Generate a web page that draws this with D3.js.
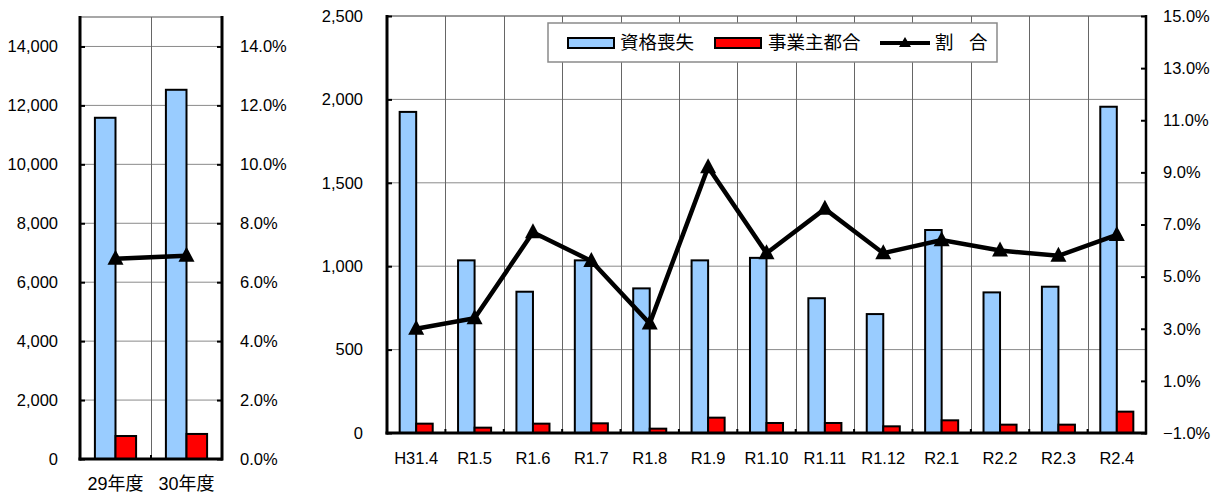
<!DOCTYPE html>
<html><head><meta charset="utf-8">
<script src="https://cdn.jsdelivr.net/npm/d3@7"></script>
<style>
body{margin:0;background:#fff}
text{font-family:"Liberation Sans","Noto Sans CJK JP",sans-serif;fill:#000}
</style>
</head><body>
<svg id="c" width="1225" height="498"></svg>
<script>
// ---- data ----
const yearCats = ["29年度", "30年度"];
const yearLoss = [11580, 12530];
const yearEmployer = [780, 850];
const yearRatio = [6.8, 6.9];

const monthCats = ["H31.4","R1.5","R1.6","R1.7","R1.8","R1.9","R1.10","R1.11","R1.12","R2.1","R2.2","R2.3","R2.4"];
const monthLoss = [1925, 1035, 847, 1035, 867, 1035, 1050, 808, 713, 1217, 843, 877, 1956];
const monthEmployer = [56, 32, 56, 58, 26, 92, 60, 60, 40, 76, 50, 50, 128];
const monthRatio = [3.0, 3.4, 6.7, 5.6, 3.2, 9.2, 5.9, 7.6, 5.9, 6.4, 6.0, 5.8, 6.6];

const yearCountTicks = [0, 2000, 4000, 6000, 8000, 10000, 12000, 14000];
const yearRatioTicks = [0, 2, 4, 6, 8, 10, 12, 14];
const monthCountTicks = [0, 500, 1000, 1500, 2000, 2500];
const monthRatioTicks = [-1, 1, 3, 5, 7, 9, 11, 13, 15];

const legendLabels = ["資格喪失", "事業主都合", "割　合"];

// ---- styles ----
const BLUE = "#99CCFF", RED = "#FF0000";
const svg = d3.select("#c");
const tri = "M0,-9L8,6L-8,6Z";

function panel(o) {
  const g = svg.append("g");
  const x = d3.scaleBand().domain(o.cats).range([o.x0, o.x1]).padding(0);
  const yC = d3.scaleLinear().domain([0, o.countMax]).range([o.y1, o.y0]);
  const yR = d3.scaleLinear().domain([o.rMin, o.rMax]).range([o.y1, o.y0]);
  const bw = x.bandwidth() * o.barFrac;
  const cx = c => x(c) + x.bandwidth() / 2;

  // horizontal grid
  g.append("g").selectAll("line").data(o.countTicks.filter(d => d > 0)).join("line")
    .attr("x1", o.x0).attr("x2", o.x1).attr("y1", d => yC(d)).attr("y2", d => yC(d))
    .attr("stroke", "#8a8a8a").attr("stroke-width", 1);
  // top border
  g.append("line").attr("x1", o.x0).attr("x2", o.x1).attr("y1", o.y0).attr("y2", o.y0)
    .attr("stroke", "#8a8a8a").attr("stroke-width", 1.5);
  // vertical grid at category boundaries
  g.append("g").selectAll("line").data(o.cats.slice(1)).join("line")
    .attr("x1", d => Math.round(x(d)) + 0.5).attr("x2", d => Math.round(x(d)) + 0.5)
    .attr("y1", o.y0).attr("y2", o.y1)
    .attr("stroke", "#666").attr("stroke-width", 1);

  // bars
  g.append("g").selectAll("rect").data(o.cats).join("rect")
    .attr("x", d => cx(d) - bw).attr("width", bw)
    .attr("y", (d, i) => yC(o.loss[i])).attr("height", (d, i) => o.y1 - yC(o.loss[i]))
    .attr("fill", BLUE).attr("stroke", "#000").attr("stroke-width", 2);
  g.append("g").selectAll("rect").data(o.cats).join("rect")
    .attr("x", d => cx(d)).attr("width", bw)
    .attr("y", (d, i) => yC(o.employer[i])).attr("height", (d, i) => o.y1 - yC(o.employer[i]))
    .attr("fill", RED).attr("stroke", "#000").attr("stroke-width", 2);

  // axes
  const la = d3.axisLeft(yC).tickValues(o.countTicks).tickSize(-5).tickPadding(o.lPad).tickFormat(d3.format(","));
  const lg = g.append("g").attr("transform", `translate(${o.x0},0)`).call(la);
  const ra = d3.axisRight(yR).tickValues(o.rTicks).tickSize(-5).tickPadding(o.rPad).tickFormat(d => d3.format(".1f")(d) + "%");
  const rg = g.append("g").attr("transform", `translate(${o.x1},0)`).call(ra);
  const ba = d3.axisBottom(x).tickSize(0).tickPadding(o.bPad);
  const bg = g.append("g").attr("transform", `translate(0,${o.y1})`).call(ba);
  [lg, rg, bg].forEach(a => {
    a.select(".domain").remove();
    a.selectAll(".tick line").attr("stroke", "#000").attr("stroke-width", 2);
    a.selectAll("text").attr("font-size", 16.5).attr("font-family", null);
  });
  bg.selectAll("text").attr("font-size", o.catFont);
  // bottom boundary ticks
  g.append("g").selectAll("line").data(o.cats.slice(1)).join("line")
    .attr("x1", d => x(d)).attr("x2", d => x(d)).attr("y1", o.y1).attr("y2", o.y1 - 4)
    .attr("stroke", "#000").attr("stroke-width", 2);

  // axis lines
  g.append("line").attr("x1", o.x0).attr("x2", o.x0).attr("y1", o.y0 - 1).attr("y2", o.y1 + 1.5)
    .attr("stroke", "#000").attr("stroke-width", 3);
  g.append("line").attr("x1", o.x1).attr("x2", o.x1).attr("y1", o.y0 - 1).attr("y2", o.y1 + 1.5)
    .attr("stroke", "#000").attr("stroke-width", o.rW);
  g.append("line").attr("x1", o.x0 - 1.5).attr("x2", o.x1 + 1).attr("y1", o.y1).attr("y2", o.y1)
    .attr("stroke", "#000").attr("stroke-width", 3);

  // ratio line
  const line = d3.line().x((d, i) => cx(o.cats[i])).y(d => yR(d));
  g.append("path").attr("d", line(o.ratio)).attr("fill", "none")
    .attr("stroke", "#000").attr("stroke-width", 4.5).attr("stroke-linejoin", "miter");
  g.append("g").selectAll("path").data(o.ratio).join("path")
    .attr("d", tri).attr("transform", (d, i) => `translate(${cx(o.cats[i])},${yR(d)})`)
    .attr("fill", "#000");
}

panel({
  cats: yearCats, loss: yearLoss, employer: yearEmployer, ratio: yearRatio,
  x0: 80, x1: 222, y0: 17, y1: 459,
  countMax: 15000, countTicks: yearCountTicks,
  rMin: 0, rMax: 15, rTicks: yearRatioTicks,
  barFrac: 0.29, lPad: 22, rPad: 18, bPad: 18, catFont: 18, rW: 3
});

panel({
  cats: monthCats, loss: monthLoss, employer: monthEmployer, ratio: monthRatio,
  x0: 387, x1: 1146, y0: 16, y1: 433,
  countMax: 2500, countTicks: monthCountTicks,
  rMin: -1, rMax: 15, rTicks: monthRatioTicks,
  barFrac: 0.283, lPad: 24, rPad: 17, bPad: 19, catFont: 16.5, rW: 2.5
});

// legend
const lg = svg.append("g");
lg.append("rect").attr("x", 548).attr("y", 23).attr("width", 449).attr("height", 39)
  .attr("fill", "#fff").attr("stroke", "#8a8a8a").attr("stroke-width", 1.5);
const ly = 43;
const items = [
  {type: "bar", color: BLUE, sx: 568, tx: 620, ls: 0},
  {type: "bar", color: RED, sx: 715, tx: 768, ls: 0},
  {type: "line", sx: 880, tx: 935, ls: -1.5}
];
items.forEach((it, i) => {
  if (it.type === "bar") {
    lg.append("rect").attr("x", it.sx).attr("y", ly - 5).attr("width", 46).attr("height", 10)
      .attr("fill", it.color).attr("stroke", "#000").attr("stroke-width", 2);
  } else {
    lg.append("line").attr("x1", it.sx).attr("x2", it.sx + 50).attr("y1", ly).attr("y2", ly)
      .attr("stroke", "#000").attr("stroke-width", 4);
    lg.append("path").attr("d", "M0,-6L6,4L-6,4Z").attr("transform", `translate(${it.sx + 25},${ly})`).attr("fill", "#000");
  }
  lg.append("text").attr("x", it.tx).attr("y", ly).attr("dy", "0.35em")
    .attr("font-size", 18.5).attr("letter-spacing", it.ls).text(legendLabels[i]);
});
</script>
</body></html>
